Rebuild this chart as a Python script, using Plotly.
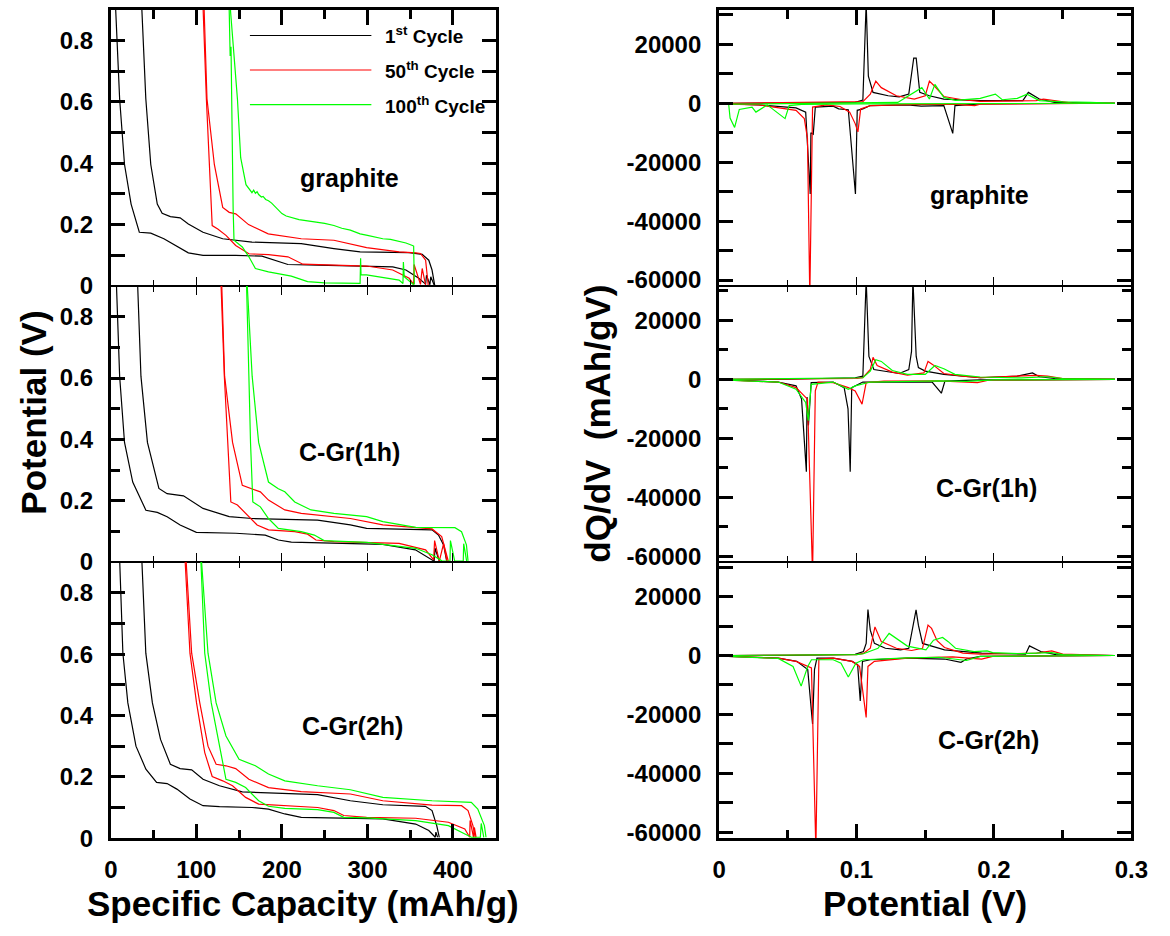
import plotly.graph_objects as go

# ---------------- DATA ----------------
# Left column: Potential (V) vs Specific Capacity (mAh/g)
# graphite
gr_c1_dis_x = [4.9, 5.7, 10.3, 16, 23.7, 33.3, 46.7, 62, 77.2, 90.6, 107.8, 146, 176.7, 192, 207, 241.7, 299, 329.6, 345, 360, 368, 369, 373, 374, 378]
gr_c1_dis_y = [0.95, 0.90, 0.61, 0.396, 0.267, 0.175, 0.172, 0.154, 0.129, 0.108, 0.100, 0.100, 0.097, 0.084, 0.070, 0.068, 0.065, 0.062, 0.052, 0.025, 0.006, 0.035, 0.004, 0.03, 0.003]
gr_c1_chg_x = [35.5, 36.3, 40.9, 46.7, 54.3, 60, 69.6, 81, 90.6, 107.8, 130.8, 165, 222.6, 260.8, 291.4, 348.8, 364, 371.7, 375.5, 378.6]
gr_c1_chg_y = [0.95, 0.90, 0.61, 0.396, 0.267, 0.237, 0.226, 0.222, 0.202, 0.175, 0.154, 0.143, 0.138, 0.122, 0.111, 0.109, 0.103, 0.084, 0.052, 0.003]
gr_c50_dis_x = [107.5, 108, 111.7, 115.5, 118.5, 125, 134.6, 146, 161.4, 184.3, 207, 224.5, 260.8, 299, 329.6, 348.8, 354, 354.5, 362, 364, 368]
gr_c50_dis_y = [0.95, 0.894, 0.61, 0.396, 0.197, 0.186, 0.165, 0.132, 0.105, 0.102, 0.095, 0.071, 0.068, 0.065, 0.052, 0.025, 0.005, 0.07, 0.005, 0.057, 0.003]
gr_c50_chg_x = [108.5, 109, 112.4, 121, 130.8, 138.4, 146, 161, 184, 222.6, 260.8, 299, 337, 356.4, 362, 368, 371]
gr_c50_chg_y = [0.95, 0.894, 0.61, 0.396, 0.256, 0.24, 0.235, 0.2, 0.17, 0.154, 0.149, 0.125, 0.111, 0.108, 0.106, 0.084, 0.003]
gr_c100_dis_x = [138, 138.4, 139.5, 140.5, 141.5, 143, 144, 153.7, 161.4, 169, 184.3, 211, 230, 250, 291.4, 292, 292.5, 299, 337, 341.5, 342, 343, 354]
gr_c100_dis_y = [0.95, 0.894, 0.75, 0.78, 0.5, 0.25, 0.149, 0.127, 0.095, 0.057, 0.046, 0.032, 0.014, 0.010, 0.0086, 0.09, 0.036, 0.036, 0.019, 0.008, 0.078, 0.03, 0.004]
gr_c100_chg_x = [139.5, 140, 148, 151.8, 158, 161.4, 163, 165, 167, 169, 171, 172.8, 176, 178, 181, 184.3, 188, 191, 195.8, 200, 205, 211, 220, 230, 241.7, 250, 260.8, 270, 280, 291.4, 300, 318, 327, 337, 345, 352.6, 354, 354.8]
gr_c100_chg_y = [0.95, 0.894, 0.61, 0.418, 0.33, 0.316, 0.31, 0.304, 0.312, 0.302, 0.307, 0.298, 0.29, 0.292, 0.282, 0.278, 0.27, 0.262, 0.246, 0.236, 0.228, 0.224, 0.216, 0.212, 0.208, 0.204, 0.197, 0.188, 0.182, 0.17, 0.165, 0.154, 0.152, 0.145, 0.14, 0.132, 0.13, 0.005]

# C-Gr(1h)
h1_c1_dis_x = [6, 6.5, 10.3, 16, 25.6, 41, 54.3, 65.8, 81, 100, 146, 180.5, 195.8, 211, 260.8, 318, 356, 371.7, 378, 379, 384]
h1_c1_dis_y = [0.95, 0.9, 0.606, 0.39, 0.261, 0.169, 0.162, 0.148, 0.121, 0.097, 0.094, 0.088, 0.072, 0.065, 0.061, 0.058, 0.040, 0.013, 0.003, 0.045, 0.003]
h1_c1_chg_x = [31, 31.4, 35.2, 42.8, 56.2, 65.8, 84.9, 92.5, 107.8, 138.4, 165.2, 241.7, 280, 299, 375.5, 383, 389, 392.7]
h1_c1_chg_y = [0.95, 0.9, 0.606, 0.39, 0.24, 0.223, 0.216, 0.202, 0.175, 0.148, 0.142, 0.137, 0.121, 0.11, 0.105, 0.088, 0.056, 0.002]
h1_c50_dis_x = [128.6, 128.9, 132.7, 136.5, 140.3, 148, 157.6, 171, 184.3, 215, 230, 239.8, 260.8, 337, 368, 377.4, 378.5, 384, 389, 393]
h1_c50_dis_y = [0.95, 0.9, 0.606, 0.39, 0.196, 0.186, 0.158, 0.121, 0.105, 0.099, 0.091, 0.072, 0.067, 0.061, 0.040, 0.0075, 0.07, 0.003, 0.06, 0.002]
h1_c50_chg_x = [129.5, 129.7, 133, 142.3, 153.7, 165.2, 174.8, 184.3, 203.4, 222.6, 280, 318, 375.5, 386.8, 394.6]
h1_c50_chg_y = [0.95, 0.9, 0.606, 0.39, 0.25, 0.239, 0.229, 0.202, 0.17, 0.159, 0.142, 0.121, 0.108, 0.083, 0.002]
h1_c100_dis_x = [158.4, 158.7, 161.4, 163.3, 166, 174.8, 184.3, 195.8, 222.6, 237.9, 249.3, 299, 356.4, 375.5, 387, 396.5, 397, 402, 412, 412.5, 416]
h1_c100_dis_y = [0.95, 0.9, 0.606, 0.39, 0.196, 0.18, 0.142, 0.11, 0.099, 0.088, 0.07, 0.064, 0.045, 0.024, 0.004, 0.003, 0.07, 0.003, 0.003, 0.06, 0.003]
h1_c100_chg_x = [159, 159.5, 165.2, 172.8, 184.3, 195.8, 203.4, 215, 234, 260.8, 299, 318, 356.4, 402.3, 410, 415.7, 417.6]
h1_c100_chg_y = [0.95, 0.9, 0.606, 0.39, 0.261, 0.239, 0.229, 0.196, 0.17, 0.159, 0.148, 0.132, 0.113, 0.112, 0.099, 0.056, 0.004]

# C-Gr(2h)
h2_c1_dis_x = [9.8, 10.3, 14.1, 19.9, 29.4, 41, 53.5, 65.8, 77.2, 92.5, 107.8, 127, 165.2, 184.3, 203.4, 222.6, 260.8, 318, 356.4, 371.7, 379.3, 380, 382]
h2_c1_dis_y = [0.95, 0.904, 0.603, 0.441, 0.3, 0.225, 0.182, 0.178, 0.16, 0.128, 0.106, 0.103, 0.1, 0.095, 0.079, 0.068, 0.066, 0.063, 0.046, 0.025, 0.003, 0.02, 0.003]
h2_c1_chg_x = [35.8, 36.3, 40.9, 48.6, 58.1, 69.6, 81, 94.5, 107.8, 127, 153.7, 184.3, 241.7, 280, 318, 367.7, 375.5, 381, 384]
h2_c1_chg_y = [0.95, 0.904, 0.603, 0.441, 0.322, 0.241, 0.227, 0.223, 0.192, 0.171, 0.151, 0.147, 0.142, 0.122, 0.109, 0.104, 0.09, 0.041, 0.003]
h2_c50_dis_x = [86, 86.8, 92.5, 100.2, 109.8, 118.5, 130.8, 142.3, 157.6, 172.8, 203.4, 241.7, 260.8, 272.3, 299, 356.4, 394.6, 413.8, 419.5, 420, 424, 425, 427]
h2_c50_dis_y = [0.95, 0.904, 0.603, 0.441, 0.279, 0.201, 0.187, 0.171, 0.133, 0.111, 0.106, 0.1, 0.09, 0.074, 0.068, 0.065, 0.052, 0.03, 0.003, 0.058, 0.003, 0.035, 0.003]
h2_c50_chg_x = [87.5, 88, 94.5, 104, 113.6, 123.1, 134.6, 146, 161.4, 184.3, 222.6, 280, 318, 375.5, 410, 417.6, 423.3, 426]
h2_c50_chg_y = [0.95, 0.904, 0.603, 0.441, 0.3, 0.241, 0.236, 0.227, 0.192, 0.165, 0.152, 0.144, 0.122, 0.108, 0.106, 0.09, 0.041, 0.003]
h2_c100_dis_x = [104.6, 105.2, 109.8, 117.4, 127, 134.6, 146, 157.6, 172.8, 184.3, 203.4, 241.7, 260.8, 272.3, 299, 356.4, 394.6, 413.8, 421.4, 432, 433, 436]
h2_c100_dis_y = [0.95, 0.904, 0.603, 0.441, 0.3, 0.192, 0.182, 0.165, 0.122, 0.104, 0.097, 0.093, 0.084, 0.068, 0.066, 0.057, 0.041, 0.014, 0.003, 0.003, 0.048, 0.003]
h2_c100_chg_x = [105.5, 106, 113.6, 123.1, 134.6, 149.9, 169, 184.3, 203.4, 241.7, 280, 318, 375.5, 421.4, 429, 436.7, 438.6]
h2_c100_chg_y = [0.95, 0.904, 0.603, 0.441, 0.333, 0.257, 0.236, 0.209, 0.187, 0.171, 0.158, 0.133, 0.122, 0.117, 0.095, 0.041, 0.003]

# Right column: dQ/dV (mAh/gV) vs Potential (V)
# graphite
dq_gr_c1_chg_x = [0.007, 0.05, 0.09, 0.099, 0.1046, 0.107, 0.1086, 0.112, 0.123, 0.131, 0.138, 0.1416, 0.1434, 0.146, 0.153, 0.1635, 0.19, 0.221, 0.225, 0.233, 0.244, 0.288]
dq_gr_c1_chg_y = [0, 50, 200, 300, 1100, 34000, 9200, 3700, 2550, 2200, 3100, 15300, 15300, 3700, 2550, 1440, 900, 900, 3700, 1440, 330, 0]
dq_gr_c1_dis_x = [0.007, 0.029, 0.056, 0.063, 0.0663, 0.0668, 0.0685, 0.070, 0.083, 0.087, 0.094, 0.0992, 0.1005, 0.1046, 0.11, 0.137, 0.147, 0.1635, 0.170, 0.1716, 0.19, 0.288]
dq_gr_c1_dis_y = [-200, -550, -1550, -3000, -30800, -10000, -10500, -1300, -1000, -1900, -2200, -30800, -2400, -1900, -780, -550, -1000, -780, -10200, -780, -220, 0]
dq_gr_c50_chg_x = [0.007, 0.1, 0.1046, 0.11, 0.114, 0.118, 0.129, 0.142, 0.15, 0.153, 0.157, 0.1635, 0.177, 0.19, 0.2306, 0.236, 0.244, 0.257, 0.288]
dq_gr_c50_chg_y = [0, 300, 550, 3100, 7500, 5300, 2550, 1440, 2550, 7500, 5700, 2300, 1200, 670, 900, 1440, 900, 100, 0]
dq_gr_c50_dis_x = [0.007, 0.029, 0.056, 0.062, 0.0643, 0.066, 0.068, 0.078, 0.088, 0.095, 0.099, 0.101, 0.103, 0.11, 0.137, 0.17, 0.186, 0.19, 0.288]
dq_gr_c50_dis_y = [-300, -550, -2400, -5200, -11900, -66000, -1300, -550, -1100, -3000, -6900, -9700, -1900, -780, -440, -300, -780, -300, 0]
dq_gr_c100_chg_x = [0.007, 0.1, 0.13, 0.1475, 0.153, 0.157, 0.1635, 0.172, 0.19, 0.201, 0.206, 0.217, 0.224, 0.233, 0.25, 0.27, 0.288]
dq_gr_c100_chg_y = [-300, 0, 300, 5300, 1440, 6400, 2000, 1000, 1670, 3100, 1200, 1670, 3100, 900, 500, 330, 0]
dq_gr_c100_dis_x = [0.007, 0.008, 0.0113, 0.0147, 0.024, 0.0268, 0.035, 0.048, 0.051, 0.06, 0.1, 0.15, 0.2, 0.288]
dq_gr_c100_dis_y = [-400, -5000, -8200, -2100, -1300, -3000, -550, -5200, -780, -400, -200, -100, 0, 0]

# C-Gr(1h)
dq_h1_c1_chg_x = [0.007, 0.05, 0.099, 0.1046, 0.107, 0.109, 0.1126, 0.1206, 0.131, 0.138, 0.14, 0.141, 0.1434, 0.145, 0.15, 0.1635, 0.19, 0.217, 0.228, 0.233, 0.244, 0.288]
dq_h1_c1_chg_y = [0, 50, 560, 1100, 34000, 7800, 3350, 2800, 2000, 3350, 9500, 34000, 7800, 4000, 2800, 1700, 560, 1100, 2200, 900, 300, 0]
dq_h1_c1_dis_x = [0.007, 0.043, 0.056, 0.06, 0.0635, 0.064, 0.065, 0.067, 0.083, 0.091, 0.0938, 0.0954, 0.0965, 0.1046, 0.137, 0.155, 0.1617, 0.1643, 0.19, 0.288]
dq_h1_c1_dis_y = [-200, -900, -2200, -6700, -31300, -6000, -15600, -1100, -900, -2800, -10000, -31300, -2800, -900, -900, -900, -4700, -560, -200, 0]
dq_h1_c50_chg_x = [0.007, 0.1, 0.1046, 0.11, 0.112, 0.115, 0.126, 0.137, 0.149, 0.152, 0.1555, 0.1635, 0.177, 0.19, 0.2306, 0.239, 0.25, 0.288]
dq_h1_c50_chg_y = [0, 300, 600, 3350, 7500, 4700, 2450, 1450, 2200, 6100, 5000, 2000, 1100, 600, 1340, 1100, 300, 0]
dq_h1_c50_dis_x = [0.007, 0.043, 0.056, 0.0643, 0.068, 0.07, 0.072, 0.083, 0.094, 0.099, 0.104, 0.107, 0.12, 0.16, 0.188, 0.196, 0.288]
dq_h1_c50_dis_y = [-300, -900, -2800, -6700, -66000, -3900, -900, -1100, -2800, -3900, -8400, -1100, -600, -500, -1100, -300, 0]
dq_h1_c100_chg_x = [0.007, 0.1, 0.1046, 0.11, 0.114, 0.118, 0.126, 0.137, 0.15, 0.157, 0.1635, 0.1716, 0.19, 0.22, 0.239, 0.25, 0.288]
dq_h1_c100_chg_y = [0, 300, 560, 2800, 6700, 6100, 3000, 1700, 1700, 4700, 3600, 1700, 800, 500, 900, 300, 0]
dq_h1_c100_dis_x = [0.007, 0.043, 0.056, 0.063, 0.0649, 0.067, 0.083, 0.094, 0.099, 0.11, 0.16, 0.18, 0.2, 0.288]
dq_h1_c100_dis_y = [-300, -900, -3350, -7800, -14000, -1700, -900, -3350, -2200, -900, -500, -700, -200, 0]

# C-Gr(2h)
dq_h2_c1_chg_x = [0.007, 0.05, 0.099, 0.105, 0.107, 0.1083, 0.11, 0.113, 0.121, 0.132, 0.138, 0.141, 0.1433, 0.145, 0.148, 0.156, 0.164, 0.191, 0.223, 0.2258, 0.234, 0.245, 0.288]
dq_h2_c1_chg_y = [0, 50, 400, 1340, 4100, 15600, 8600, 4100, 2450, 1900, 2450, 10300, 15500, 10300, 4100, 3000, 1900, 780, 450, 3250, 1340, 300, 0]
dq_h2_c1_dis_x = [0.007, 0.043, 0.0565, 0.0645, 0.068, 0.0694, 0.0712, 0.083, 0.0968, 0.1008, 0.1027, 0.1043, 0.11, 0.137, 0.164, 0.176, 0.18, 0.19, 0.288]
dq_h2_c1_dis_y = [-300, -900, -2000, -4800, -23200, -4800, -900, -900, -2000, -3100, -15400, -2000, -1450, -900, -1200, -2300, -1200, -300, 0]
dq_h2_c50_chg_x = [0.007, 0.1, 0.105, 0.11, 0.1134, 0.118, 0.129, 0.14, 0.148, 0.152, 0.1546, 0.1586, 0.164, 0.1774, 0.19, 0.231, 0.242, 0.25, 0.288]
dq_h2_c50_chg_y = [0, 300, 700, 2450, 9700, 4700, 2450, 1700, 2450, 10300, 9200, 5000, 2700, 780, 450, 780, 1560, 450, 0]
dq_h2_c50_dis_x = [0.007, 0.043, 0.056, 0.0672, 0.0704, 0.0726, 0.083, 0.0968, 0.1022, 0.107, 0.1083, 0.113, 0.137, 0.17, 0.191, 0.199, 0.288]
dq_h2_c50_dis_y = [-300, -900, -2000, -4200, -66000, -1200, -900, -2000, -3700, -21000, -3700, -2000, -900, -500, -1200, -300, 0]
dq_h2_c100_chg_x = [0.007, 0.1, 0.105, 0.1156, 0.1237, 0.129, 0.137, 0.1505, 0.156, 0.1626, 0.1667, 0.172, 0.1855, 0.195, 0.199, 0.22, 0.242, 0.25, 0.288]
dq_h2_c100_chg_y = [0, 300, 600, 2450, 7500, 5800, 3200, 1900, 5200, 6100, 4700, 2450, 1340, 1560, 1000, 600, 1000, 300, 0]
dq_h2_c100_dis_x = [0.007, 0.043, 0.0538, 0.0597, 0.0645, 0.0672, 0.083, 0.0887, 0.094, 0.0995, 0.105, 0.137, 0.16, 0.18, 0.19, 0.288]
dq_h2_c100_dis_y = [-300, -1000, -3700, -10400, -3700, -1450, -1450, -2600, -7300, -2600, -1450, -800, -600, -1700, -300, 0]

# labels / ticks
sample_names = ["graphite", "C-Gr(1h)", "C-Gr(2h)"]
cycle_names = ["1<sup>st</sup> Cycle", "50<sup>th</sup> Cycle", "100<sup>th</sup> Cycle"]
cap_tickvals = [0, 100, 200, 300, 400]
cap_ticktext = ["0", "100", "200", "300", "400"]
cap_minor = [50, 150, 250, 350, 450]
pot_tickvals = [0, 0.2, 0.4, 0.6, 0.8]
pot_ticktext = ["0", "0.2", "0.4", "0.6", "0.8"]
pot_minor = [0.1, 0.3, 0.5, 0.7]
vx_tickvals = [0, 0.1, 0.2, 0.3]
vx_ticktext = ["0", "0.1", "0.2", "0.3"]
vx_minor = [0.05, 0.15, 0.25]
dq_tickvals = [-60000, -40000, -20000, 0, 20000]
dq_ticktext = ["-60000", "-40000", "-20000", "0", "20000"]
dq_minor = [-50000, -30000, -10000, 10000, 30000]

# ---------------- FIGURE ----------------
W, H = 1170, 936
FONT = "Liberation Sans"
COLORS = ["#000000", "#ff0000", "#00ff00"]

fig = go.Figure()

left_sets = [
    [(gr_c1_dis_x, gr_c1_dis_y, gr_c1_chg_x, gr_c1_chg_y),
     (gr_c50_dis_x, gr_c50_dis_y, gr_c50_chg_x, gr_c50_chg_y),
     (gr_c100_dis_x, gr_c100_dis_y, gr_c100_chg_x, gr_c100_chg_y)],
    [(h1_c1_dis_x, h1_c1_dis_y, h1_c1_chg_x, h1_c1_chg_y),
     (h1_c50_dis_x, h1_c50_dis_y, h1_c50_chg_x, h1_c50_chg_y),
     (h1_c100_dis_x, h1_c100_dis_y, h1_c100_chg_x, h1_c100_chg_y)],
    [(h2_c1_dis_x, h2_c1_dis_y, h2_c1_chg_x, h2_c1_chg_y),
     (h2_c50_dis_x, h2_c50_dis_y, h2_c50_chg_x, h2_c50_chg_y),
     (h2_c100_dis_x, h2_c100_dis_y, h2_c100_chg_x, h2_c100_chg_y)],
]
right_sets = [
    [(dq_gr_c1_chg_x, dq_gr_c1_chg_y, dq_gr_c1_dis_x, dq_gr_c1_dis_y),
     (dq_gr_c50_chg_x, dq_gr_c50_chg_y, dq_gr_c50_dis_x, dq_gr_c50_dis_y),
     (dq_gr_c100_chg_x, dq_gr_c100_chg_y, dq_gr_c100_dis_x, dq_gr_c100_dis_y)],
    [(dq_h1_c1_chg_x, dq_h1_c1_chg_y, dq_h1_c1_dis_x, dq_h1_c1_dis_y),
     (dq_h1_c50_chg_x, dq_h1_c50_chg_y, dq_h1_c50_dis_x, dq_h1_c50_dis_y),
     (dq_h1_c100_chg_x, dq_h1_c100_chg_y, dq_h1_c100_dis_x, dq_h1_c100_dis_y)],
    [(dq_h2_c1_chg_x, dq_h2_c1_chg_y, dq_h2_c1_dis_x, dq_h2_c1_dis_y),
     (dq_h2_c50_chg_x, dq_h2_c50_chg_y, dq_h2_c50_dis_x, dq_h2_c50_dis_y),
     (dq_h2_c100_chg_x, dq_h2_c100_chg_y, dq_h2_c100_dis_x, dq_h2_c100_dis_y)],
]


def add_line(xs, ys, color, xa, ya):
    fig.add_trace(go.Scatter(x=xs, y=ys, mode="lines", line=dict(color=color, width=1.2),
                             xaxis=xa, yaxis=ya, showlegend=False, hoverinfo="skip"))


for p in range(3):
    for c in range(3):
        ax, ay, bx, by = left_sets[p][c]
        add_line(ax, ay, COLORS[c], "x%d" % (p + 1), "y%d" % (p + 1))
        add_line(bx, by, COLORS[c], "x%d" % (p + 1), "y%d" % (p + 1))
    for c in range(3):
        ax, ay, bx, by = right_sets[p][c]
        add_line(ax, ay, COLORS[c], "x%d" % (p + 4), "y%d" % (p + 4))
        add_line(bx, by, COLORS[c], "x%d" % (p + 4), "y%d" % (p + 4))

# empty traces so the overlay (border) axes are drawn
for xa, ya in [("x7", "y1"), ("x8", "y3"), ("x9", "y4"), ("x10", "y6")]:
    fig.add_trace(go.Scatter(x=[None], y=[None], xaxis=xa, yaxis=ya, showlegend=False, hoverinfo="skip"))

px = lambda v: v / W
py = lambda v: 1 - v / H

XL = [px(106), px(499)]
XR = [px(727), px(1148)]
YB = [10, 290, 570, 850]
YD = [[py(YB[1]), py(YB[0])], [py(YB[2]), py(YB[1])], [py(YB[3]), py(YB[2])]]

tickfont = dict(family=FONT, size=24, color="black", weight="bold")


def yax(domain, anchor, rng, tv, tt, mv):
    return dict(domain=domain, anchor=anchor, range=rng, tickmode="array", tickvals=tv, ticktext=tt,
                showline=True, linewidth=3, linecolor="black", mirror="allticks",
                ticks="inside", ticklen=14, tickwidth=3, tickcolor="black",
                minor=dict(tickmode="array", tickvals=mv, ticks="inside", ticklen=9, tickwidth=3,
                           tickcolor="black", showgrid=False),
                showgrid=False, zeroline=False, tickfont=tickfont, ticklabelstandoff=10)


def xax(domain, anchor, rng, tv, tt, mv, side, lw, tw, tl, mtl, labels, mirror=False, overlaying=None):
    d = dict(domain=domain, anchor=anchor, range=rng, tickmode="array", tickvals=tv, ticktext=tt,
             side=side, showline=True, linewidth=lw, linecolor="black", mirror=mirror,
             ticks="inside", ticklen=tl, tickwidth=tw, tickcolor="black",
             minor=dict(tickmode="array", tickvals=mv, ticks="inside", ticklen=mtl, tickwidth=tw,
                        tickcolor="black", showgrid=False),
             showgrid=False, zeroline=False, showticklabels=labels, tickfont=tickfont,
             ticklabelstandoff=8)
    if overlaying:
        d["overlaying"] = overlaying
    return d


CAP_R = [0, 450]
POT_R = [0, 0.9]
VX_R = [0, 0.3]
DQ_R = [-62000, 31700]

layout = dict(
    width=W, height=H, autosize=False, margin=dict(l=0, r=0, t=0, b=0),
    paper_bgcolor="white", plot_bgcolor="white", showlegend=False,
    # left column
    yaxis=yax(YD[0], "x", POT_R, pot_tickvals, pot_ticktext, pot_minor),
    yaxis2=yax(YD[1], "x2", POT_R, pot_tickvals, pot_ticktext, pot_minor),
    yaxis3=yax(YD[2], "x3", POT_R, pot_tickvals, pot_ticktext, pot_minor),
    xaxis=xax(XL, "y", CAP_R, cap_tickvals, cap_ticktext, cap_minor, "bottom", 1, 1, 9, 6, False),
    xaxis2=xax(XL, "y2", CAP_R, cap_tickvals, cap_ticktext, cap_minor, "bottom", 1, 1, 9, 6, False, mirror="allticks"),
    xaxis3=xax(XL, "y3", CAP_R, cap_tickvals, cap_ticktext, cap_minor, "bottom", 3, 3, 14, 8, True),
    xaxis7=xax(XL, "y", CAP_R, cap_tickvals, cap_ticktext, cap_minor, "top", 3, 3, 15, 9, False, overlaying="x"),
    xaxis8=xax(XL, "y3", CAP_R, cap_tickvals, cap_ticktext, cap_minor, "top", 1, 1, 9, 6, False, overlaying="x3"),
    # right column
    yaxis4=yax(YD[0], "x4", DQ_R, dq_tickvals, dq_ticktext, dq_minor),
    yaxis5=yax(YD[1], "x5", DQ_R, dq_tickvals, dq_ticktext, dq_minor),
    yaxis6=yax(YD[2], "x6", DQ_R, dq_tickvals, dq_ticktext, dq_minor),
    xaxis4=xax(XR, "y4", VX_R, vx_tickvals, vx_ticktext, vx_minor, "bottom", 1, 1, 9, 6, False),
    xaxis5=xax(XR, "y5", VX_R, vx_tickvals, vx_ticktext, vx_minor, "bottom", 1, 1, 9, 6, False, mirror="allticks"),
    xaxis6=xax(XR, "y6", VX_R, vx_tickvals, vx_ticktext, vx_minor, "bottom", 3, 3, 14, 8, True),
    xaxis9=xax(XR, "y4", VX_R, vx_tickvals, vx_ticktext, vx_minor, "top", 3, 3, 15, 9, False, overlaying="x4"),
    xaxis10=xax(XR, "y6", VX_R, vx_tickvals, vx_ticktext, vx_minor, "top", 1, 1, 9, 6, False, overlaying="x6"),
)
fig.update_layout(**layout)

ann = []
big = dict(family=FONT, size=35, color="black", weight="bold")
ann.append(dict(text="Potential (V)", x=px(27), y=py(418), xref="paper", yref="paper", textangle=-90,
                showarrow=False, font=big, xanchor="center", yanchor="middle"))
ann.append(dict(text="dQ/dV  (mAh/gV)", x=px(602), y=py(430), xref="paper", yref="paper", textangle=-90,
                showarrow=False, font=big, xanchor="center", yanchor="middle"))
ann.append(dict(text="Specific Capacity (mAh/g)", x=px(302), y=py(916), xref="paper", yref="paper",
                showarrow=False, font=big, xanchor="center", yanchor="middle"))
ann.append(dict(text="Potential (V)", x=px(937), y=py(916), xref="paper", yref="paper",
                showarrow=False, font=big, xanchor="center", yanchor="middle"))

lab = dict(family=FONT, size=25, color="black", weight="bold")
left_lab_pos = [(279, 0.353), (279, 0.36), (283, 0.366)]
right_lab_pos = [(0.1895, -31200), (0.1944, -36900), (0.196, -28700)]
for i in range(3):
    ann.append(dict(text=sample_names[i], x=left_lab_pos[i][0], y=left_lab_pos[i][1],
                    xref="x%s" % ("" if i == 0 else i + 1), yref="y%s" % ("" if i == 0 else i + 1),
                    showarrow=False, font=lab))
    ann.append(dict(text=sample_names[i], x=right_lab_pos[i][0], y=right_lab_pos[i][1],
                    xref="x%d" % (i + 4), yref="y%d" % (i + 4), showarrow=False, font=lab))

# legend (drawn by hand to match the long sample lines)
shapes = []
leg_y = [36, 71, 106]
legf = dict(family=FONT, size=19, color="black", weight="bold")
for i in range(3):
    shapes.append(dict(type="line", xref="paper", yref="paper", x0=px(248), x1=px(372),
                       y0=py(leg_y[i]), y1=py(leg_y[i]), line=dict(color=COLORS[i], width=1.2)))
    ann.append(dict(text=cycle_names[i], x=px(384), y=py(leg_y[i]), xref="paper", yref="paper",
                    xanchor="left", yanchor="middle", showarrow=False, font=legf))

fig.update_layout(annotations=ann, shapes=shapes)
fig.write_html("out.html")
